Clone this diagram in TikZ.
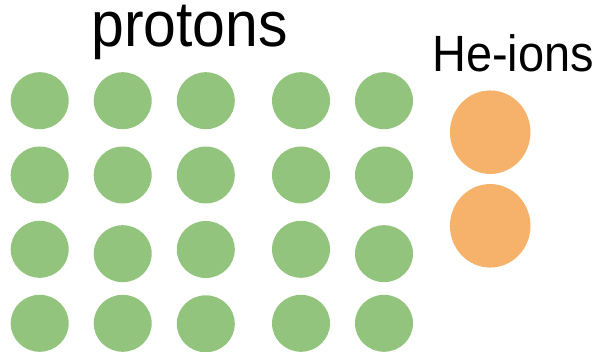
\documentclass[tikz,border=0pt]{standalone}
\usepackage{fontspec}
\setmainfont{Liberation Sans}
\usetikzlibrary{shapes.geometric}
\definecolor{protgreen}{HTML}{93C47D}
\definecolor{heorange}{HTML}{F6B26B}
\tikzset{
  proton/.style={ellipse, fill=protgreen, draw=none, minimum width=58pt, minimum height=57pt, inner sep=0pt},
  heion/.style={ellipse, fill=heorange, draw=none, minimum width=80.5pt, minimum height=83.5pt, inner sep=0pt},
  label/.style={inner sep=0pt, anchor=base, xscale=0.92}
}
\begin{document}
\begin{tikzpicture}[x=1pt,y=-1pt]
\useasboundingbox (0,0) rectangle (599,352);
\node[label] (tp) at (189.7,46.7) {\fontsize{64}{70}\selectfont protons};
\node[label] (th) at (513,71.7) {\fontsize{51}{60}\selectfont He-ions};
% row 1
\node[proton] (p11) at (39.7,100.7) {};
\node[proton] (p12) at (122.7,100.7) {};
\node[proton] (p13) at (205.8,100.7) {};
\node[proton] (p14) at (301,100.7) {};
\node[proton] (p15) at (384,100.7) {};
% row 2
\node[proton] (p21) at (39.7,175) {};
\node[proton] (p22) at (122.7,175) {};
\node[proton] (p23) at (205.8,175) {};
\node[proton] (p24) at (301,175) {};
\node[proton] (p25) at (384,175) {};
% row 3
\node[proton] (p31) at (39.7,249.3) {};
\node[proton] (p32) at (122.7,253.7) {};
\node[proton] (p33) at (205.8,249.5) {};
\node[proton] (p34) at (301,249.3) {};
\node[proton] (p35) at (384,253.7) {};
% row 4
\node[proton] (p41) at (39.7,323.3) {};
\node[proton] (p42) at (122.7,323.3) {};
\node[proton] (p43) at (205.8,323.8) {};
\node[proton] (p44) at (301,323.3) {};
\node[proton] (p45) at (384,323.3) {};
% He ions
\node[heion] (h1) at (490.2,132.2) {};
\node[heion] (h2) at (490.2,225.8) {};
\end{tikzpicture}
\end{document}
